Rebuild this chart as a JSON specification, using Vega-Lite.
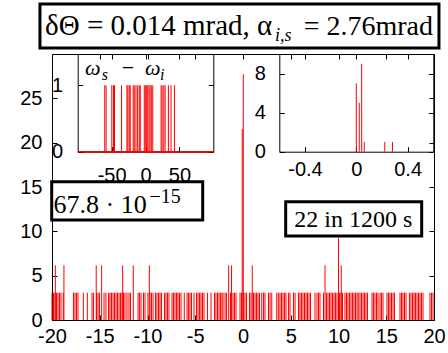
{
 "$schema": "https://vega.github.io/schema/vega-lite/v6.json",
 "width": 382, "height": 266,
 "autosize": {"type": "none"},
 "padding": {"left": 52, "top": 54, "right": 14, "bottom": 33},
 "background": "white",
 "config": {
  "view": {"stroke": null},
  "axis": {"labelFont": "Liberation Sans", "labelFontSize": 20, "labelColor": "black", "domainColor": "black", "domainWidth": 1, "tickColor": "black", "tickSize": -5, "grid": false, "title": null, "labelFlush": false, "labelOverlap": false, "labelExpr": "'' + datum.value"}
 },
 "datasets": {
  "main": [
   {"x":-20.00,"y":3.08},{"x":-19.84,"y":3.08},{"x":-19.69,"y":3.08},{"x":-19.53,"y":3.08},{"x":-19.37,"y":3.08},{"x":-19.21,"y":3.08},{"x":-19.06,"y":3.08},{"x":-18.82,"y":3.08},{"x":-17.75,"y":3.08},{"x":-17.59,"y":3.08},{"x":-17.43,"y":3.08},{"x":-17.28,"y":3.08},{"x":-16.72,"y":3.08},{"x":-16.30,"y":3.08},{"x":-15.81,"y":3.08},{"x":-15.65,"y":3.08},{"x":-15.34,"y":3.08},{"x":-15.18,"y":3.08},{"x":-15.03,"y":3.08},{"x":-14.55,"y":3.08},{"x":-14.35,"y":3.08},{"x":-14.08,"y":3.08},{"x":-13.93,"y":3.08},{"x":-13.77,"y":3.08},{"x":-13.61,"y":3.08},{"x":-13.46,"y":3.08},{"x":-13.30,"y":3.08},{"x":-13.14,"y":3.08},{"x":-12.98,"y":3.08},{"x":-12.83,"y":3.08},{"x":-12.67,"y":3.08},{"x":-12.51,"y":3.08},{"x":-12.36,"y":3.08},{"x":-12.15,"y":3.08},{"x":-11.94,"y":3.08},{"x":-11.78,"y":3.08},{"x":-10.99,"y":3.08},{"x":-10.84,"y":3.08},{"x":-10.68,"y":3.08},{"x":-10.42,"y":3.08},{"x":-10.26,"y":3.08},{"x":-9.95,"y":3.08},{"x":-9.74,"y":3.08},{"x":-9.58,"y":3.08},{"x":-9.42,"y":3.08},{"x":-9.16,"y":3.08},{"x":-9.01,"y":3.08},{"x":-8.85,"y":3.08},{"x":-8.69,"y":3.08},{"x":-8.53,"y":3.08},{"x":-8.22,"y":3.08},{"x":-8.06,"y":3.08},{"x":-7.91,"y":3.08},{"x":-7.75,"y":3.08},{"x":-7.43,"y":3.08},{"x":-7.28,"y":3.08},{"x":-7.12,"y":3.08},{"x":-6.96,"y":3.08},{"x":-6.81,"y":3.08},{"x":-6.65,"y":3.08},{"x":-6.49,"y":3.08},{"x":-6.15,"y":3.08},{"x":-5.86,"y":3.08},{"x":-5.71,"y":3.08},{"x":-5.55,"y":3.08},{"x":-5.39,"y":3.08},{"x":-5.13,"y":3.08},{"x":-4.87,"y":3.08},{"x":-4.71,"y":3.08},{"x":-4.55,"y":3.08},{"x":-4.40,"y":3.08},{"x":-4.24,"y":3.08},{"x":-4.08,"y":3.08},{"x":-3.72,"y":3.08},{"x":-3.35,"y":3.08},{"x":-2.98,"y":3.08},{"x":-2.83,"y":3.08},{"x":-2.67,"y":3.08},{"x":-2.51,"y":3.08},{"x":-2.36,"y":3.08},{"x":-2.20,"y":3.08},{"x":-2.09,"y":3.08},{"x":-1.88,"y":3.08},{"x":-1.73,"y":3.08},{"x":-1.31,"y":3.08},{"x":-1.05,"y":3.08},{"x":-0.89,"y":3.08},{"x":-0.73,"y":3.08},{"x":-0.31,"y":3.08},{"x":-0.16,"y":3.08},{"x":0.21,"y":3.08},{"x":0.37,"y":3.08},{"x":0.68,"y":3.08},{"x":0.84,"y":3.08},{"x":1.10,"y":3.08},{"x":1.26,"y":3.08},{"x":1.41,"y":3.08},{"x":1.57,"y":3.08},{"x":1.73,"y":3.08},{"x":1.96,"y":3.08},{"x":2.15,"y":3.08},{"x":2.30,"y":3.08},{"x":2.67,"y":3.08},{"x":2.83,"y":3.08},{"x":3.01,"y":3.08},{"x":3.53,"y":3.08},{"x":3.70,"y":3.08},{"x":3.87,"y":3.08},{"x":4.03,"y":3.08},{"x":4.19,"y":3.08},{"x":4.35,"y":3.08},{"x":4.50,"y":3.08},{"x":4.76,"y":3.08},{"x":4.92,"y":3.08},{"x":5.29,"y":3.08},{"x":5.45,"y":3.08},{"x":5.81,"y":3.08},{"x":5.97,"y":3.08},{"x":6.13,"y":3.08},{"x":6.28,"y":3.08},{"x":6.44,"y":3.08},{"x":6.60,"y":3.08},{"x":6.75,"y":3.08},{"x":6.91,"y":3.08},{"x":7.07,"y":3.08},{"x":7.54,"y":3.08},{"x":7.75,"y":3.08},{"x":7.91,"y":3.08},{"x":8.06,"y":3.08},{"x":8.43,"y":3.08},{"x":8.74,"y":3.08},{"x":8.90,"y":3.08},{"x":9.06,"y":3.08},{"x":9.21,"y":3.08},{"x":9.37,"y":3.08},{"x":9.53,"y":3.08},{"x":9.69,"y":3.08},{"x":9.84,"y":3.08},{"x":10.10,"y":3.08},{"x":10.26,"y":3.08},{"x":10.42,"y":3.08},{"x":10.68,"y":3.08},{"x":10.84,"y":3.08},{"x":10.99,"y":3.08},{"x":11.15,"y":3.08},{"x":11.31,"y":3.08},{"x":11.47,"y":3.08},{"x":11.62,"y":3.08},{"x":11.78,"y":3.08},{"x":11.94,"y":3.08},{"x":12.07,"y":3.08},{"x":12.25,"y":3.08},{"x":12.41,"y":3.08},{"x":12.57,"y":3.08},{"x":12.72,"y":3.08},{"x":12.88,"y":3.08},{"x":13.04,"y":3.08},{"x":13.51,"y":3.08},{"x":13.66,"y":3.08},{"x":13.82,"y":3.08},{"x":13.98,"y":3.08},{"x":14.14,"y":3.08},{"x":14.35,"y":3.08},{"x":14.50,"y":3.08},{"x":14.66,"y":3.08},{"x":15.08,"y":3.08},{"x":15.24,"y":3.08},{"x":15.39,"y":3.08},{"x":15.55,"y":3.08},{"x":15.71,"y":3.08},{"x":15.86,"y":3.08},{"x":16.44,"y":3.08},{"x":16.60,"y":3.08},{"x":16.75,"y":3.08},{"x":16.91,"y":3.08},{"x":17.07,"y":3.08},{"x":17.43,"y":3.08},{"x":17.59,"y":3.08},{"x":17.75,"y":3.08},{"x":17.91,"y":3.08},{"x":18.06,"y":3.08},{"x":18.22,"y":3.08},{"x":18.38,"y":3.08},{"x":18.53,"y":3.08},{"x":18.69,"y":3.08},{"x":18.85,"y":3.08},{"x":19.58,"y":3.08},{"x":19.74,"y":3.08},{"x":19.90,"y":3.08},
   {"x":0.06,"y":3.08},
   {"x":-19.65,"y":6.16},{"x":-18.75,"y":6.16},{"x":-15.37,"y":6.16},{"x":-14.80,"y":6.16},{"x":-12.60,"y":6.16},{"x":-11.49,"y":6.16},{"x":-9.81,"y":6.16},{"x":-1.50,"y":6.16},{"x":-1.20,"y":6.16},{"x":0.97,"y":6.16},{"x":8.59,"y":6.16},{"x":10.29,"y":6.16},
   {"x":10.0,"y":9.24},
   {"x":-0.08,"y":21.56},{"x":0.03,"y":27.72}
  ],
  "inset1": [
   {"x":-60.1,"y":1},{"x":-58.1,"y":1},{"x":-49.7,"y":1},{"x":-47.2,"y":1},{"x":-45.7,"y":1},{"x":-35.3,"y":1},{"x":-27.4,"y":1},{"x":-26.0,"y":1},{"x":-24.0,"y":1},{"x":-22.5,"y":1},{"x":-18.1,"y":1},{"x":-16.6,"y":1},{"x":-14.1,"y":1},{"x":-11.6,"y":1},{"x":-9.2,"y":1},{"x":-7.7,"y":1},{"x":-1.8,"y":1},{"x":-0.3,"y":1},{"x":1.7,"y":1},{"x":3.3,"y":1},{"x":5.2,"y":1},{"x":6.7,"y":1},{"x":8.6,"y":1},{"x":10.7,"y":1},{"x":23.0,"y":1},{"x":24.5,"y":1},{"x":27.0,"y":1},{"x":28.9,"y":1},{"x":33.8,"y":1},{"x":37.7,"y":1},{"x":42.7,"y":1}
  ],
  "inset2": [
   {"x":0.0,"y":7},{"x":0.023,"y":5},{"x":0.042,"y":9},{"x":0.062,"y":1},{"x":0.222,"y":1},{"x":0.282,"y":1}
  ]
 },
 "layer": [
  {
   "layer": [
    {
     "data": {"name": "main"},
     "mark": {"type": "rule", "color": "#ff0000", "strokeWidth": 1},
     "encoding": {
      "x": {"field": "x", "type": "quantitative", "scale": {"domain": [-20, 20], "nice": false, "zero": false}, "axis": {"orient": "bottom", "values": [-20,-15,-10,-5,0,5,10,15,20], "labelPadding": 11}},
      "y": {"field": "y", "type": "quantitative", "scale": {"domain": [0, 30], "nice": false, "zero": false}, "axis": {"orient": "left", "values": [0,5,10,15,20,25], "labelPadding": 15}},
      "y2": {"datum": 0}
     }
    },
    {
     "data": {"name": "main"},
     "mark": {"type": "point", "opacity": 0},
     "encoding": {
      "x": {"field": "x", "type": "quantitative", "scale": {"domain": [-20, 20], "nice": false, "zero": false}, "axis": {"orient": "top", "values": [-20,-15,-10,-5,0,5,10,15,20], "labels": false}},
      "y": {"field": "y", "type": "quantitative", "scale": {"domain": [0, 30], "nice": false, "zero": false}, "axis": {"orient": "right", "values": [0,5,10,15,20,25], "labels": false}}
     }
    },
    {
     "data": {"values": [{}]},
     "layer": [
      {
       "mark": {"type": "rect", "fill": "white", "stroke": "black", "strokeWidth": 3},
       "encoding": {
        "x": {"datum": -20.03, "type": "quantitative", "axis": null}, "x2": {"datum": -4.22},
        "y": {"datum": 15.6, "type": "quantitative", "axis": null}, "y2": {"datum": 11.28}
       }
      },
      {
       "mark": {"type": "text", "text": "67.8 · 10", "font": "Liberation Serif", "fontSize": 26, "align": "right", "baseline": "alphabetic", "color": "black"},
       "encoding": {"x": {"datum": -10.08, "type": "quantitative", "axis": null}, "y": {"datum": 12.03, "type": "quantitative", "axis": null}}
      },
      {
       "mark": {"type": "text", "text": "−15", "font": "Liberation Serif", "fontSize": 20, "align": "left", "baseline": "alphabetic", "color": "black"},
       "encoding": {"x": {"datum": -9.8, "type": "quantitative", "axis": null}, "y": {"datum": 13.14, "type": "quantitative", "axis": null}}
      },
      {
       "mark": {"type": "rect", "fill": "white", "stroke": "black", "strokeWidth": 3},
       "encoding": {
        "x": {"datum": 4.47, "type": "quantitative", "axis": null}, "x2": {"datum": 18.71},
        "y": {"datum": 13.34, "type": "quantitative", "axis": null}, "y2": {"datum": 9.47}
       }
      },
      {
       "mark": {"type": "text", "text": "22 in 1200 s", "font": "Liberation Serif", "fontSize": 24, "align": "center", "baseline": "alphabetic", "color": "black"},
       "encoding": {"x": {"datum": 11.55, "type": "quantitative", "axis": null}, "y": {"datum": 10.45, "type": "quantitative", "axis": null}}
      },
      {
       "mark": {"type": "rect", "fill": "white", "stroke": "black", "strokeWidth": 3},
       "encoding": {
        "x": {"datum": -21.26, "type": "quantitative", "axis": null}, "x2": {"datum": 20.52},
        "y": {"datum": 35.64, "type": "quantitative", "axis": null}, "y2": {"datum": 30.68}
       }
      },
      {
       "mark": {"type": "text", "text": "δΘ = 0.014 mrad, α", "font": "Liberation Serif", "fontSize": 29, "align": "left", "baseline": "alphabetic", "color": "black"},
       "encoding": {"x": {"datum": -20.73, "type": "quantitative", "axis": null}, "y": {"datum": 32.14, "type": "quantitative", "axis": null}}
      },
      {
       "mark": {"type": "text", "text": "i,s", "font": "Liberation Serif", "fontStyle": "italic", "fontSize": 18, "align": "left", "baseline": "alphabetic", "color": "black"},
       "encoding": {"x": {"datum": 3.35, "type": "quantitative", "axis": null}, "y": {"datum": 31.5, "type": "quantitative", "axis": null}}
      },
      {
       "mark": {"type": "text", "text": "= 2.76mrad", "font": "Liberation Serif", "fontSize": 28, "align": "right", "baseline": "alphabetic", "color": "black"},
       "encoding": {"x": {"datum": 19.9, "type": "quantitative", "axis": null}, "y": {"datum": 32.14, "type": "quantitative", "axis": null}}
      }
     ]
    }
   ],
   "resolve": {"axis": {"x": "independent", "y": "independent"}}
  },
  {
   "layer": [
    {
     "data": {"name": "inset1"},
     "mark": {"type": "rule", "color": "#ff0000", "strokeWidth": 1},
     "encoding": {
      "x": {"field": "x", "type": "quantitative", "scale": {"domain": [-100, 100], "range": [25.7, 161.3], "nice": false, "zero": false}, "axis": {"orient": "bottom", "offset": -168.3, "values": [-50, 0, 50], "labelPadding": 19}},
      "y": {"field": "y", "type": "quantitative", "scale": {"domain": [0, 1.47], "range": [97.7, 0], "nice": false, "zero": false}, "axis": {"orient": "left", "offset": -25.7, "values": [0, 1], "labelPadding": 20}},
      "y2": {"datum": 0}
     }
    },
    {
     "data": {"name": "inset1"},
     "mark": {"type": "point", "opacity": 0},
     "encoding": {
      "x": {"field": "x", "type": "quantitative", "scale": {"domain": [-100, 100], "range": [25.7, 161.3], "nice": false, "zero": false}, "axis": {"orient": "top", "offset": 0, "values": [-50, 0, 50], "labels": false}},
      "y": {"field": "y", "type": "quantitative", "scale": {"domain": [0, 1.47], "range": [97.7, 0], "nice": false, "zero": false}, "axis": {"orient": "right", "offset": -220.7, "values": [0, 1], "labels": false}}
     }
    },
    {
     "data": {"values": [{}]},
     "layer": [
      {
       "mark": {"type": "rule", "color": "#ff0000", "strokeWidth": 1.5},
       "encoding": {"x": {"datum": -100, "type": "quantitative", "axis": null}, "x2": {"datum": 100}, "y": {"datum": 0, "type": "quantitative", "axis": null}}
      },
      {
       "mark": {"type": "text", "text": "ω", "font": "Liberation Serif", "fontStyle": "italic", "fontSize": 22, "align": "left", "baseline": "alphabetic", "color": "black"},
       "encoding": {"x": {"datum": -89.2, "type": "quantitative", "axis": null}, "y": {"datum": 1.154, "type": "quantitative", "axis": null}}
      },
      {
       "mark": {"type": "text", "text": "s", "font": "Liberation Serif", "fontStyle": "italic", "fontSize": 16, "align": "left", "baseline": "alphabetic", "color": "black"},
       "encoding": {"x": {"datum": -64.6, "type": "quantitative", "axis": null}, "y": {"datum": 1.079, "type": "quantitative", "axis": null}}
      },
      {
       "mark": {"type": "text", "text": "−", "font": "Liberation Serif", "fontSize": 22, "align": "left", "baseline": "alphabetic", "color": "black"},
       "encoding": {"x": {"datum": -35.1, "type": "quantitative", "axis": null}, "y": {"datum": 1.154, "type": "quantitative", "axis": null}}
      },
      {
       "mark": {"type": "text", "text": "ω", "font": "Liberation Serif", "fontStyle": "italic", "fontSize": 22, "align": "left", "baseline": "alphabetic", "color": "black"},
       "encoding": {"x": {"datum": -0.7, "type": "quantitative", "axis": null}, "y": {"datum": 1.154, "type": "quantitative", "axis": null}}
      },
      {
       "mark": {"type": "text", "text": "i", "font": "Liberation Serif", "fontStyle": "italic", "fontSize": 16, "align": "left", "baseline": "alphabetic", "color": "black"},
       "encoding": {"x": {"datum": 21.4, "type": "quantitative", "axis": null}, "y": {"datum": 1.079, "type": "quantitative", "axis": null}}
      }
     ]
    }
   ],
   "resolve": {"axis": {"x": "independent", "y": "independent"}}
  },
  {
   "layer": [
    {
     "data": {"name": "inset2"},
     "mark": {"type": "rule", "color": "#ff0000", "strokeWidth": 1},
     "encoding": {
      "x": {"field": "x", "type": "quantitative", "scale": {"domain": [-0.6, 0.6], "range": [227.3, 381.3], "nice": false, "zero": false}, "axis": {"orient": "bottom", "offset": -168.3, "values": [-0.4, 0, 0.4], "labelPadding": 13}},
      "y": {"field": "y", "type": "quantitative", "scale": {"domain": [0, 10], "range": [97.7, 0], "nice": false, "zero": false}, "axis": {"orient": "left", "offset": -227.3, "values": [0, 4, 8], "labelPadding": 19}},
      "y2": {"datum": 0}
     }
    },
    {
     "data": {"name": "inset2"},
     "mark": {"type": "point", "opacity": 0},
     "encoding": {
      "x": {"field": "x", "type": "quantitative", "scale": {"domain": [-0.6, 0.6], "range": [227.3, 381.3], "nice": false, "zero": false}, "axis": {"orient": "top", "offset": 0, "values": [-0.4, 0, 0.4], "labels": false}},
      "y": {"field": "y", "type": "quantitative", "scale": {"domain": [0, 10], "range": [97.7, 0], "nice": false, "zero": false}, "axis": {"orient": "right", "offset": -0.7, "values": [0, 4, 8], "labels": false}}
     }
    }
   ],
   "resolve": {"axis": {"x": "independent", "y": "independent"}}
  }
 ],
 "resolve": {"scale": {"x": "independent", "y": "independent"}}
}
